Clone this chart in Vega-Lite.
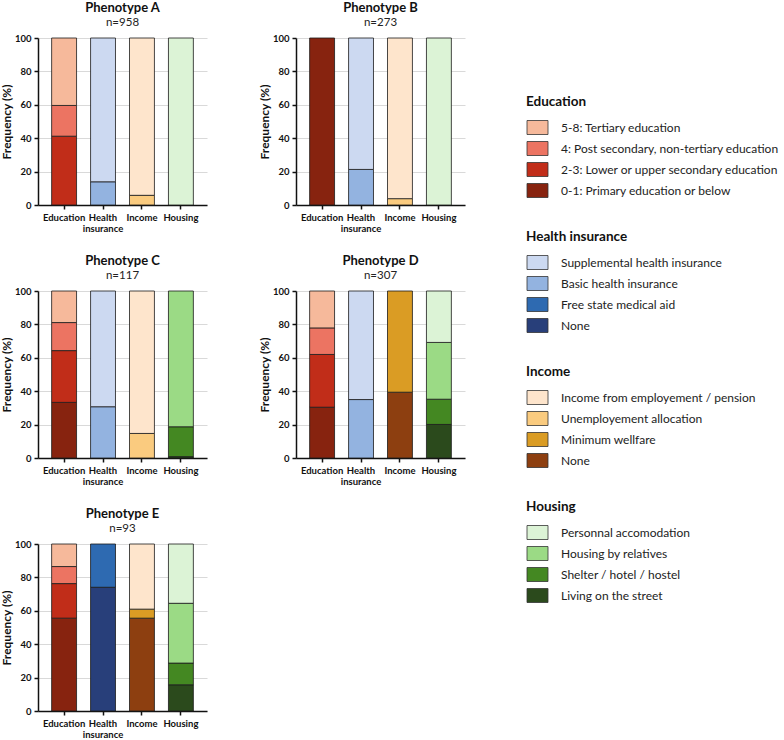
{
  "$schema": "https://vega.github.io/schema/vega-lite/v6.json",
  "background": "white",
  "padding": {"left": 0, "top": 1, "right": 0, "bottom": 0},
  "data": {"values": [
    {"phenotype": "A", "variable": "Education", "category": "2-3: Lower or upper secondary education", "level": 2, "value": 41.2},
    {"phenotype": "A", "variable": "Education", "category": "4: Post secondary, non-tertiary education", "level": 3, "value": 18.4},
    {"phenotype": "A", "variable": "Education", "category": "5-8: Tertiary education", "level": 4, "value": 40.4},
    {"phenotype": "A", "variable": "Health insurance", "category": "Basic health insurance", "level": 3, "value": 13.9},
    {"phenotype": "A", "variable": "Health insurance", "category": "Supplemental health insurance", "level": 4, "value": 86.1},
    {"phenotype": "A", "variable": "Income", "category": "Unemployement allocation", "level": 3, "value": 5.8},
    {"phenotype": "A", "variable": "Income", "category": "Income from employement / pension", "level": 4, "value": 94.2},
    {"phenotype": "A", "variable": "Housing", "category": "Personnal accomodation", "level": 4, "value": 100},

    {"phenotype": "B", "variable": "Education", "category": "0-1: Primary education or below", "level": 1, "value": 100},
    {"phenotype": "B", "variable": "Health insurance", "category": "Basic health insurance", "level": 3, "value": 21.3},
    {"phenotype": "B", "variable": "Health insurance", "category": "Supplemental health insurance", "level": 4, "value": 78.7},
    {"phenotype": "B", "variable": "Income", "category": "Unemployement allocation", "level": 3, "value": 3.8},
    {"phenotype": "B", "variable": "Income", "category": "Income from employement / pension", "level": 4, "value": 96.2},
    {"phenotype": "B", "variable": "Housing", "category": "Personnal accomodation", "level": 4, "value": 100},

    {"phenotype": "C", "variable": "Education", "category": "0-1: Primary education or below", "level": 1, "value": 33.3},
    {"phenotype": "C", "variable": "Education", "category": "2-3: Lower or upper secondary education", "level": 2, "value": 31.0},
    {"phenotype": "C", "variable": "Education", "category": "4: Post secondary, non-tertiary education", "level": 3, "value": 16.8},
    {"phenotype": "C", "variable": "Education", "category": "5-8: Tertiary education", "level": 4, "value": 18.9},
    {"phenotype": "C", "variable": "Health insurance", "category": "Basic health insurance", "level": 3, "value": 30.7},
    {"phenotype": "C", "variable": "Health insurance", "category": "Supplemental health insurance", "level": 4, "value": 69.3},
    {"phenotype": "C", "variable": "Income", "category": "Unemployement allocation", "level": 3, "value": 14.7},
    {"phenotype": "C", "variable": "Income", "category": "Income from employement / pension", "level": 4, "value": 85.3},
    {"phenotype": "C", "variable": "Housing", "category": "Living on the street", "level": 1, "value": 0.8},
    {"phenotype": "C", "variable": "Housing", "category": "Shelter / hotel / hostel", "level": 2, "value": 17.9},
    {"phenotype": "C", "variable": "Housing", "category": "Housing by relatives", "level": 3, "value": 81.3},

    {"phenotype": "D", "variable": "Education", "category": "0-1: Primary education or below", "level": 1, "value": 30.4},
    {"phenotype": "D", "variable": "Education", "category": "2-3: Lower or upper secondary education", "level": 2, "value": 31.6},
    {"phenotype": "D", "variable": "Education", "category": "4: Post secondary, non-tertiary education", "level": 3, "value": 15.9},
    {"phenotype": "D", "variable": "Education", "category": "5-8: Tertiary education", "level": 4, "value": 22.1},
    {"phenotype": "D", "variable": "Health insurance", "category": "Basic health insurance", "level": 3, "value": 35.0},
    {"phenotype": "D", "variable": "Health insurance", "category": "Supplemental health insurance", "level": 4, "value": 65.0},
    {"phenotype": "D", "variable": "Income", "category": "None", "level": 1, "value": 39.4},
    {"phenotype": "D", "variable": "Income", "category": "Minimum wellfare", "level": 2, "value": 60.6},
    {"phenotype": "D", "variable": "Housing", "category": "Living on the street", "level": 1, "value": 20.1},
    {"phenotype": "D", "variable": "Housing", "category": "Shelter / hotel / hostel", "level": 2, "value": 15.1},
    {"phenotype": "D", "variable": "Housing", "category": "Housing by relatives", "level": 3, "value": 34.0},
    {"phenotype": "D", "variable": "Housing", "category": "Personnal accomodation", "level": 4, "value": 30.8},

    {"phenotype": "E", "variable": "Education", "category": "0-1: Primary education or below", "level": 1, "value": 55.6},
    {"phenotype": "E", "variable": "Education", "category": "2-3: Lower or upper secondary education", "level": 2, "value": 20.7},
    {"phenotype": "E", "variable": "Education", "category": "4: Post secondary, non-tertiary education", "level": 3, "value": 10.2},
    {"phenotype": "E", "variable": "Education", "category": "5-8: Tertiary education", "level": 4, "value": 13.5},
    {"phenotype": "E", "variable": "Health insurance", "category": "None", "level": 1, "value": 74.1},
    {"phenotype": "E", "variable": "Health insurance", "category": "Free state medical aid", "level": 2, "value": 25.9},
    {"phenotype": "E", "variable": "Income", "category": "None", "level": 1, "value": 55.6},
    {"phenotype": "E", "variable": "Income", "category": "Minimum wellfare", "level": 2, "value": 5.4},
    {"phenotype": "E", "variable": "Income", "category": "Income from employement / pension", "level": 4, "value": 39.0},
    {"phenotype": "E", "variable": "Housing", "category": "Living on the street", "level": 1, "value": 15.7},
    {"phenotype": "E", "variable": "Housing", "category": "Shelter / hotel / hostel", "level": 2, "value": 13.0},
    {"phenotype": "E", "variable": "Housing", "category": "Housing by relatives", "level": 3, "value": 35.8},
    {"phenotype": "E", "variable": "Housing", "category": "Personnal accomodation", "level": 4, "value": 35.5}
  ]},
  "hconcat": [
    {
      "concat": [
        {
          "title": {"text": "Phenotype A", "subtitle": "n=958"},
          "width": 169, "height": 167,
          "transform": [{"filter": "datum.phenotype == 'A'"}],
          "encoding": {
            "x": {"field": "variable", "type": "nominal", "scale": {"domain": ["Education", "Health insurance", "Income", "Housing"], "paddingInner": 0.36, "paddingOuter": 0.35}, "axis": {"title": null, "labelAngle": 0, "labelExpr": "datum.label == 'Health insurance' ? ['Health', 'insurance'] : datum.label"}},
            "y": {"field": "value", "type": "quantitative", "stack": "zero", "scale": {"domain": [0, 100], "nice": false}, "axis": {"title": "Frequency (%)", "values": [0, 20, 40, 60, 80, 100], "grid": true}},
            "order": {"field": "level", "type": "quantitative"}
          },
          "layer": [
            {"transform": [{"filter": "datum.variable == 'Education'"}], "mark": "bar", "encoding": {"color": {"field": "category", "type": "nominal", "legend": null, "scale": {"domain": ["0-1: Primary education or below", "2-3: Lower or upper secondary education", "4: Post secondary, non-tertiary education", "5-8: Tertiary education"], "range": ["#87230F", "#C12D19", "#EC7462", "#F6B99B"]}}}},
            {"transform": [{"filter": "datum.variable == 'Health insurance'"}], "mark": "bar", "encoding": {"color": {"field": "category", "type": "nominal", "legend": null, "scale": {"domain": ["None", "Free state medical aid", "Basic health insurance", "Supplemental health insurance"], "range": ["#283F7A", "#2E6AB1", "#93B3E0", "#CCD9F1"]}}}},
            {"transform": [{"filter": "datum.variable == 'Income'"}], "mark": "bar", "encoding": {"color": {"field": "category", "type": "nominal", "legend": null, "scale": {"domain": ["None", "Minimum wellfare", "Unemployement allocation", "Income from employement / pension"], "range": ["#8D3F10", "#DA9C24", "#FACB7F", "#FEE5CC"]}}}},
            {"transform": [{"filter": "datum.variable == 'Housing'"}], "mark": "bar", "encoding": {"color": {"field": "category", "type": "nominal", "legend": null, "scale": {"domain": ["Living on the street", "Shelter / hotel / hostel", "Housing by relatives", "Personnal accomodation"], "range": ["#2B4A1C", "#448822", "#9BDA85", "#DCF3D6"]}}}}
          ],
          "resolve": {"scale": {"color": "independent"}}
        },
        {
          "title": {"text": "Phenotype B", "subtitle": "n=273"},
          "width": 169, "height": 167,
          "transform": [{"filter": "datum.phenotype == 'B'"}],
          "encoding": {
            "x": {"field": "variable", "type": "nominal", "scale": {"domain": ["Education", "Health insurance", "Income", "Housing"], "paddingInner": 0.36, "paddingOuter": 0.35}, "axis": {"title": null, "labelAngle": 0, "labelExpr": "datum.label == 'Health insurance' ? ['Health', 'insurance'] : datum.label"}},
            "y": {"field": "value", "type": "quantitative", "stack": "zero", "scale": {"domain": [0, 100], "nice": false}, "axis": {"title": "Frequency (%)", "values": [0, 20, 40, 60, 80, 100], "grid": true}},
            "order": {"field": "level", "type": "quantitative"}
          },
          "layer": [
            {"transform": [{"filter": "datum.variable == 'Education'"}], "mark": "bar", "encoding": {"color": {"field": "category", "type": "nominal", "legend": null, "scale": {"domain": ["0-1: Primary education or below", "2-3: Lower or upper secondary education", "4: Post secondary, non-tertiary education", "5-8: Tertiary education"], "range": ["#87230F", "#C12D19", "#EC7462", "#F6B99B"]}}}},
            {"transform": [{"filter": "datum.variable == 'Health insurance'"}], "mark": "bar", "encoding": {"color": {"field": "category", "type": "nominal", "legend": null, "scale": {"domain": ["None", "Free state medical aid", "Basic health insurance", "Supplemental health insurance"], "range": ["#283F7A", "#2E6AB1", "#93B3E0", "#CCD9F1"]}}}},
            {"transform": [{"filter": "datum.variable == 'Income'"}], "mark": "bar", "encoding": {"color": {"field": "category", "type": "nominal", "legend": null, "scale": {"domain": ["None", "Minimum wellfare", "Unemployement allocation", "Income from employement / pension"], "range": ["#8D3F10", "#DA9C24", "#FACB7F", "#FEE5CC"]}}}},
            {"transform": [{"filter": "datum.variable == 'Housing'"}], "mark": "bar", "encoding": {"color": {"field": "category", "type": "nominal", "legend": null, "scale": {"domain": ["Living on the street", "Shelter / hotel / hostel", "Housing by relatives", "Personnal accomodation"], "range": ["#2B4A1C", "#448822", "#9BDA85", "#DCF3D6"]}}}}
          ],
          "resolve": {"scale": {"color": "independent"}}
        },
        {
          "title": {"text": "Phenotype C", "subtitle": "n=117"},
          "width": 169, "height": 167,
          "transform": [{"filter": "datum.phenotype == 'C'"}],
          "encoding": {
            "x": {"field": "variable", "type": "nominal", "scale": {"domain": ["Education", "Health insurance", "Income", "Housing"], "paddingInner": 0.36, "paddingOuter": 0.35}, "axis": {"title": null, "labelAngle": 0, "labelExpr": "datum.label == 'Health insurance' ? ['Health', 'insurance'] : datum.label"}},
            "y": {"field": "value", "type": "quantitative", "stack": "zero", "scale": {"domain": [0, 100], "nice": false}, "axis": {"title": "Frequency (%)", "values": [0, 20, 40, 60, 80, 100], "grid": true}},
            "order": {"field": "level", "type": "quantitative"}
          },
          "layer": [
            {"transform": [{"filter": "datum.variable == 'Education'"}], "mark": "bar", "encoding": {"color": {"field": "category", "type": "nominal", "legend": null, "scale": {"domain": ["0-1: Primary education or below", "2-3: Lower or upper secondary education", "4: Post secondary, non-tertiary education", "5-8: Tertiary education"], "range": ["#87230F", "#C12D19", "#EC7462", "#F6B99B"]}}}},
            {"transform": [{"filter": "datum.variable == 'Health insurance'"}], "mark": "bar", "encoding": {"color": {"field": "category", "type": "nominal", "legend": null, "scale": {"domain": ["None", "Free state medical aid", "Basic health insurance", "Supplemental health insurance"], "range": ["#283F7A", "#2E6AB1", "#93B3E0", "#CCD9F1"]}}}},
            {"transform": [{"filter": "datum.variable == 'Income'"}], "mark": "bar", "encoding": {"color": {"field": "category", "type": "nominal", "legend": null, "scale": {"domain": ["None", "Minimum wellfare", "Unemployement allocation", "Income from employement / pension"], "range": ["#8D3F10", "#DA9C24", "#FACB7F", "#FEE5CC"]}}}},
            {"transform": [{"filter": "datum.variable == 'Housing'"}], "mark": "bar", "encoding": {"color": {"field": "category", "type": "nominal", "legend": null, "scale": {"domain": ["Living on the street", "Shelter / hotel / hostel", "Housing by relatives", "Personnal accomodation"], "range": ["#2B4A1C", "#448822", "#9BDA85", "#DCF3D6"]}}}}
          ],
          "resolve": {"scale": {"color": "independent"}}
        },
        {
          "title": {"text": "Phenotype D", "subtitle": "n=307"},
          "width": 169, "height": 167,
          "transform": [{"filter": "datum.phenotype == 'D'"}],
          "encoding": {
            "x": {"field": "variable", "type": "nominal", "scale": {"domain": ["Education", "Health insurance", "Income", "Housing"], "paddingInner": 0.36, "paddingOuter": 0.35}, "axis": {"title": null, "labelAngle": 0, "labelExpr": "datum.label == 'Health insurance' ? ['Health', 'insurance'] : datum.label"}},
            "y": {"field": "value", "type": "quantitative", "stack": "zero", "scale": {"domain": [0, 100], "nice": false}, "axis": {"title": "Frequency (%)", "values": [0, 20, 40, 60, 80, 100], "grid": true}},
            "order": {"field": "level", "type": "quantitative"}
          },
          "layer": [
            {"transform": [{"filter": "datum.variable == 'Education'"}], "mark": "bar", "encoding": {"color": {"field": "category", "type": "nominal", "legend": null, "scale": {"domain": ["0-1: Primary education or below", "2-3: Lower or upper secondary education", "4: Post secondary, non-tertiary education", "5-8: Tertiary education"], "range": ["#87230F", "#C12D19", "#EC7462", "#F6B99B"]}}}},
            {"transform": [{"filter": "datum.variable == 'Health insurance'"}], "mark": "bar", "encoding": {"color": {"field": "category", "type": "nominal", "legend": null, "scale": {"domain": ["None", "Free state medical aid", "Basic health insurance", "Supplemental health insurance"], "range": ["#283F7A", "#2E6AB1", "#93B3E0", "#CCD9F1"]}}}},
            {"transform": [{"filter": "datum.variable == 'Income'"}], "mark": "bar", "encoding": {"color": {"field": "category", "type": "nominal", "legend": null, "scale": {"domain": ["None", "Minimum wellfare", "Unemployement allocation", "Income from employement / pension"], "range": ["#8D3F10", "#DA9C24", "#FACB7F", "#FEE5CC"]}}}},
            {"transform": [{"filter": "datum.variable == 'Housing'"}], "mark": "bar", "encoding": {"color": {"field": "category", "type": "nominal", "legend": null, "scale": {"domain": ["Living on the street", "Shelter / hotel / hostel", "Housing by relatives", "Personnal accomodation"], "range": ["#2B4A1C", "#448822", "#9BDA85", "#DCF3D6"]}}}}
          ],
          "resolve": {"scale": {"color": "independent"}}
        },
        {
          "title": {"text": "Phenotype E", "subtitle": "n=93"},
          "width": 169, "height": 167,
          "transform": [{"filter": "datum.phenotype == 'E'"}],
          "encoding": {
            "x": {"field": "variable", "type": "nominal", "scale": {"domain": ["Education", "Health insurance", "Income", "Housing"], "paddingInner": 0.36, "paddingOuter": 0.35}, "axis": {"title": null, "labelAngle": 0, "labelExpr": "datum.label == 'Health insurance' ? ['Health', 'insurance'] : datum.label"}},
            "y": {"field": "value", "type": "quantitative", "stack": "zero", "scale": {"domain": [0, 100], "nice": false}, "axis": {"title": "Frequency (%)", "values": [0, 20, 40, 60, 80, 100], "grid": true}},
            "order": {"field": "level", "type": "quantitative"}
          },
          "layer": [
            {"transform": [{"filter": "datum.variable == 'Education'"}], "mark": "bar", "encoding": {"color": {"field": "category", "type": "nominal", "legend": null, "scale": {"domain": ["0-1: Primary education or below", "2-3: Lower or upper secondary education", "4: Post secondary, non-tertiary education", "5-8: Tertiary education"], "range": ["#87230F", "#C12D19", "#EC7462", "#F6B99B"]}}}},
            {"transform": [{"filter": "datum.variable == 'Health insurance'"}], "mark": "bar", "encoding": {"color": {"field": "category", "type": "nominal", "legend": null, "scale": {"domain": ["None", "Free state medical aid", "Basic health insurance", "Supplemental health insurance"], "range": ["#283F7A", "#2E6AB1", "#93B3E0", "#CCD9F1"]}}}},
            {"transform": [{"filter": "datum.variable == 'Income'"}], "mark": "bar", "encoding": {"color": {"field": "category", "type": "nominal", "legend": null, "scale": {"domain": ["None", "Minimum wellfare", "Unemployement allocation", "Income from employement / pension"], "range": ["#8D3F10", "#DA9C24", "#FACB7F", "#FEE5CC"]}}}},
            {"transform": [{"filter": "datum.variable == 'Housing'"}], "mark": "bar", "encoding": {"color": {"field": "category", "type": "nominal", "legend": null, "scale": {"domain": ["Living on the street", "Shelter / hotel / hostel", "Housing by relatives", "Personnal accomodation"], "range": ["#2B4A1C", "#448822", "#9BDA85", "#DCF3D6"]}}}}
          ],
          "resolve": {"scale": {"color": "independent"}}
        }
      ],
      "columns": 2,
      "spacing": {"row": 21, "column": 51}
    },
    {
      "width": 1, "height": 624,
      "transform": [{"filter": "datum.phenotype == 'none'"}],
      "layer": [
        {"mark": {"type": "bar", "stroke": "#333"}, "encoding": {"color": {"field": "category", "type": "nominal", "title": "Education", "scale": {"domain": ["5-8: Tertiary education", "4: Post secondary, non-tertiary education", "2-3: Lower or upper secondary education", "0-1: Primary education or below"], "range": ["#F6B99B", "#EC7462", "#C12D19", "#87230F"]}}}},
        {"mark": {"type": "bar", "stroke": "#333"}, "encoding": {"color": {"field": "category", "type": "nominal", "title": "Health insurance", "scale": {"domain": ["Supplemental health insurance", "Basic health insurance", "Free state medical aid", "None"], "range": ["#CCD9F1", "#93B3E0", "#2E6AB1", "#283F7A"]}}}},
        {"mark": {"type": "bar", "stroke": "#333"}, "encoding": {"color": {"field": "category", "type": "nominal", "title": "Income", "scale": {"domain": ["Income from employement / pension", "Unemployement allocation", "Minimum wellfare", "None"], "range": ["#FEE5CC", "#FACB7F", "#DA9C24", "#8D3F10"]}}}},
        {"mark": {"type": "bar", "stroke": "#333"}, "encoding": {"color": {"field": "category", "type": "nominal", "title": "Housing", "scale": {"domain": ["Personnal accomodation", "Housing by relatives", "Shelter / hotel / hostel", "Living on the street"], "range": ["#DCF3D6", "#9BDA85", "#448822", "#2B4A1C"]}}}}
      ],
      "resolve": {"scale": {"color": "independent"}}
    }
  ],
  "spacing": 60,
  "config": {
    "view": {"stroke": null},
    "font": "Lato",
    "bar": {"stroke": "#1a1a1a", "strokeWidth": 0.8},
    "title": {"font": "Lato", "fontSize": 13, "fontWeight": "bold", "color": "#111", "subtitleFont": "Lato", "subtitleFontSize": 11.5, "subtitleColor": "#222", "subtitlePadding": 2, "offset": 5, "anchor": "middle", "frame": "group"},
    "axis": {"labelFont": "Lato", "titleFont": "Lato", "labelFontWeight": "bold", "labelFontSize": 9.5, "labelColor": "#111", "titleFontSize": 12, "titleFontWeight": "bold", "titleColor": "#111", "domainColor": "#111", "domainWidth": 1.5, "tickColor": "#111", "tickWidth": 1.5, "tickSize": 4, "labelPadding": 3, "titlePadding": 1},
    "axisY": {"gridColor": "#d9d9d9", "gridWidth": 1},
    "axisX": {"labelLineHeight": 11, "grid": false},
    "legend": {"titleFont": "Lato", "titleFontSize": 13.5, "titleFontWeight": "bold", "titleColor": "#111", "labelFont": "Lato", "labelFontSize": 12, "labelColor": "#222", "labelLimit": 300, "symbolType": "M-1.5,-1H1.5V1H-1.5Z", "symbolSize": 196, "symbolOffset": 4, "symbolStrokeColor": "#333", "symbolStrokeWidth": 1, "symbolOpacity": 1, "rowPadding": 2, "titlePadding": 11.5, "labelOffset": 16, "offset": 0, "padding": 0, "layout": {"right": {"anchor": "middle", "direction": "vertical", "margin": 30}}}
  }
}
